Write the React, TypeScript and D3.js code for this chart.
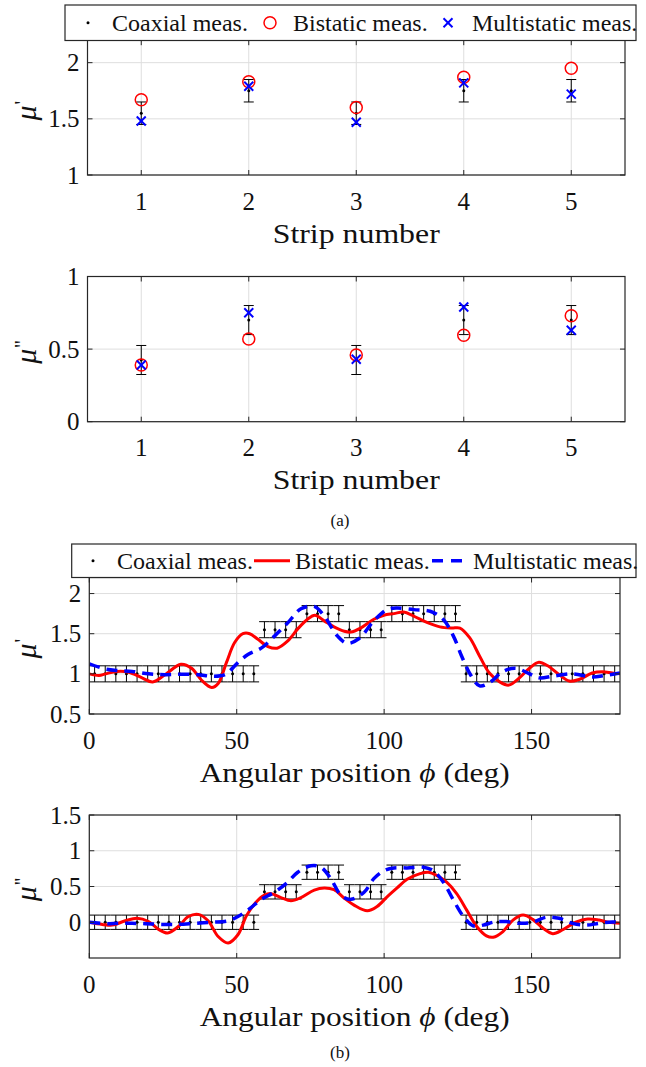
import React from 'react';
import * as d3 from 'd3';

// ---------- DATA ----------
const strips = [1, 2, 3, 4, 5];
const stripTicks = [1, 2, 3, 4, 5];

const coaxMuP = [1.55, 1.75, 1.55, 1.75, 1.75];
const coaxMuPErr = [0.1, 0.1, 0.1, 0.1, 0.1];
const bistMuP = [1.67, 1.83, 1.6, 1.87, 1.95];
const multiMuP = [1.48, 1.79, 1.47, 1.82, 1.72];

const coaxMuPP = [0.425, 0.7, 0.425, 0.7, 0.7];
const coaxMuPPErr = [0.1, 0.1, 0.1, 0.1, 0.1];
const bistMuPP = [0.39, 0.57, 0.46, 0.595, 0.73];
const multiMuPP = [0.39, 0.75, 0.43, 0.79, 0.63];

const angTicks = [0, 50, 100, 150];

const coaxAngles = [1.8, 5.4, 9, 12.6, 16.2, 19.8, 23.4, 27, 30.6, 34.2, 37.8, 41.4, 45, 48.6, 52.2, 55.8,
  59.4, 63, 66.6, 70.2, 73.8, 77.4, 81, 84.6, 88.2, 91.8, 95.4, 99, 102.6, 106.2, 109.8, 113.4, 117, 120.6, 124.2,
  127.8, 131.4, 135, 138.6, 142.2, 145.8, 149.4, 153, 156.6, 160.2, 163.8, 167.4, 171, 174.6, 178.2];
const coaxAngMuP = [1, 1, 1, 1, 1, 1, 1, 1, 1, 1, 1, 1, 1, 1, 1, 1,
  1.55, 1.55, 1.55, 1.55, 1.75, 1.75, 1.75, 1.75, 1.55, 1.55, 1.55, 1.55,
  1.75, 1.75, 1.75, 1.75, 1.75, 1.75, 1.75,
  1, 1, 1, 1, 1, 1, 1, 1, 1, 1, 1, 1, 1, 1, 1];
const coaxAngMuPP = [0, 0, 0, 0, 0, 0, 0, 0, 0, 0, 0, 0, 0, 0, 0, 0,
  0.425, 0.425, 0.425, 0.425, 0.7, 0.7, 0.7, 0.7, 0.425, 0.425, 0.425, 0.425,
  0.7, 0.7, 0.7, 0.7, 0.7, 0.7, 0.7,
  0, 0, 0, 0, 0, 0, 0, 0, 0, 0, 0, 0, 0, 0, 0];
const coaxAngErr = [0.1, 0.1, 0.1, 0.1, 0.1, 0.1, 0.1, 0.1, 0.1, 0.1, 0.1, 0.1, 0.1, 0.1, 0.1, 0.1,
  0.1, 0.1, 0.1, 0.1, 0.1, 0.1, 0.1, 0.1, 0.1, 0.1, 0.1, 0.1, 0.1, 0.1, 0.1, 0.1, 0.1, 0.1, 0.1,
  0.1, 0.1, 0.1, 0.1, 0.1, 0.1, 0.1, 0.1, 0.1, 0.1, 0.1, 0.1, 0.1, 0.1, 0.1];

const bistAngP = [0, 3.3, 5.5, 9.4, 13.4, 17.9, 21.5, 25.7, 31.1, 34.7, 38.1, 41.5, 43.7, 46.5, 49.3, 52.1, 54.4,
  57.2, 60.6, 63.7, 67.3, 70.7, 74, 76.5, 79.7, 83, 86.5, 88.7, 92, 96.5, 99.9, 103.3, 106.6, 110, 114.5, 118.9,
  122.9, 125.7, 129, 132.4, 135.7, 139.2, 142.3, 145.9, 149.3, 152.5, 155.5, 159.4, 162.8, 166.1, 170.6, 174,
  177.4, 180];
const bistMuPCurve = [1.0, 0.98, 1.0, 1.03, 1.02, 0.95, 0.9, 0.99, 1.12, 1.07, 0.92, 0.83, 0.88, 1.14, 1.39, 1.5,
  1.5, 1.43, 1.34, 1.32, 1.41, 1.56, 1.68, 1.73, 1.66, 1.585, 1.53, 1.52, 1.57, 1.68, 1.73, 1.75, 1.77, 1.72, 1.64,
  1.585, 1.57, 1.57, 1.45, 1.22, 1.01, 0.9, 0.86, 0.95, 1.07, 1.145, 1.1, 0.99, 0.91, 0.93, 1.01, 1.025, 1.01, 1.0];

const multiAngP = [0, 5.5, 10, 14.5, 20.1, 25.7, 31.3, 37, 41.5, 46, 50.4, 53.8, 58.3, 62.8, 67.3, 71.8, 76.3,
  79.7, 84.2, 87.5, 91.5, 96.5, 101, 104.4, 110, 115.6, 120, 123.5, 126.3, 129.6, 132.4, 135.7, 140.3, 144.7,
  149.3, 152.6, 157.2, 163.9, 170.6, 175, 180];
const multiMuPCurve = [1.125, 1.06, 1.04, 1.03, 1.0, 0.99, 0.995, 0.99, 0.97, 0.99, 1.14, 1.24, 1.32, 1.47, 1.635,
  1.81, 1.84, 1.72, 1.47, 1.38, 1.44, 1.66, 1.8, 1.82, 1.8, 1.78, 1.68, 1.47, 1.22, 0.97, 0.85, 0.89, 1.03, 1.07,
  1.0, 0.95, 0.97, 1.0, 0.96, 0.98, 1.01];

const bistAngPP = [0, 4.4, 7.8, 12.2, 16.2, 20.1, 23.5, 26.6, 30.2, 33.6, 37, 40.3, 43.7, 47.1, 50.4, 53.3, 56.1,
  59.4, 61.7, 65, 68.4, 71.8, 76.3, 79.7, 83, 86.4, 89.8, 94.3, 97.6, 101, 104.4, 107.8, 112.2, 115, 117.8, 121.2,
  124.6, 128, 131.4, 134.7, 137, 140.3, 143.7, 147.1, 150.4, 153.8, 157.2, 160.6, 165, 169, 172.9, 176.3, 180];
const bistMuPPCurve = [0, -0.03, -0.04, 0.02, 0.055, 0.01, -0.1, -0.15, -0.06, 0.08, 0.11, 0.02, -0.2, -0.29,
  -0.175, 0.09, 0.26, 0.38, 0.4, 0.345, 0.3, 0.345, 0.45, 0.48, 0.455, 0.34, 0.24, 0.16, 0.22, 0.355, 0.48, 0.6,
  0.68, 0.7, 0.655, 0.56, 0.4, 0.17, -0.06, -0.19, -0.21, -0.13, 0.03, 0.1, 0.04, -0.08, -0.16, -0.105, 0.0, 0.045,
  0.03, 0, -0.015];

const multiAngPP = [0, 5.5, 10, 14.5, 19, 24.6, 30.2, 35.8, 41.5, 47.1, 50.4, 54.4, 58.3, 62.8, 67.3, 70.7, 75.2,
  78.5, 81.9, 85.3, 88.7, 93.2, 96.5, 99.9, 103.3, 107.8, 113.4, 116.7, 120.1, 123.5, 126.9, 130.2, 133.6, 137,
  141.5, 146, 150.4, 154.9, 159.4, 163.9, 168.4, 172.9, 177.4, 180];
const multiMuPPCurve = [0, -0.02, -0.015, -0.015, -0.02, -0.03, -0.03, -0.015, 0, 0.02, 0.08, 0.19, 0.32, 0.42,
  0.56, 0.7, 0.79, 0.77, 0.61, 0.38, 0.32, 0.42, 0.61, 0.72, 0.76, 0.76, 0.77, 0.72, 0.56, 0.31, 0.08, -0.05,
  -0.04, 0, 0.01, -0.015, 0, 0.07, 0.055, -0.015, -0.04, -0.015, 0.005, 0];

const legendLabels = ['Coaxial meas.', 'Bistatic meas.', 'Multistatic meas.'];

// ---------- STYLE ----------
const FONT = "'Liberation Serif', Tinos, 'Times New Roman', Times, 'DejaVu Serif Condensed', 'DejaVu Serif', serif";
const AX = '#262626';
const GRID = '#dedede';
const RED = '#ff0000';
const BLUE = '#0000ff';
const TICK = 5;

type Box = { left: number; right: number; top: number; bottom: number };

function Axes({ box, x, y, xTicks, yTicks, xLabel, xLabelLen, yLabel }: any) {
  const { left, right, top, bottom } = box as Box;
  return (
    <g>
      {xTicks.map((t: number) => (
        <g key={'xt' + t}>
          <line x1={x(t)} x2={x(t)} y1={bottom} y2={bottom - TICK} stroke={AX} />
          <line x1={x(t)} x2={x(t)} y1={top} y2={top + TICK} stroke={AX} />
          <text x={x(t)} y={bottom + 34.5} fontSize={25} textAnchor="middle" fontFamily={FONT} fill="#111">{t}</text>
        </g>
      ))}
      {yTicks.map((t: number) => (
        <g key={'yt' + t}>
          <line x1={left} x2={left + TICK} y1={y(t)} y2={y(t)} stroke={AX} />
          <line x1={right} x2={right - TICK} y1={y(t)} y2={y(t)} stroke={AX} />
          <text x={left - 8} y={y(t) + 8.5} fontSize={25} textAnchor="end" fontFamily={FONT} fill="#111">{t}</text>
        </g>
      ))}
      <rect x={left} y={top} width={right - left} height={bottom - top} fill="none" stroke={AX} strokeWidth={1.2} />
      <text x={(left + right) / 2} y={bottom + 67.5} fontSize={28} textAnchor="middle" fontFamily={FONT} fill="#111"
        textLength={xLabelLen} lengthAdjust="spacingAndGlyphs">
        {xLabel}
      </text>
      <text transform={`translate(36,${(top + bottom) / 2 + 3}) rotate(-90)`} fontSize={30} textAnchor="middle"
        fontFamily={FONT} fill="#111">
        <tspan fontStyle="italic">μ</tspan>
        <tspan fontSize={20} dy={-7} dx={1}>{yLabel}</tspan>
      </text>
    </g>
  );
}

function Grid({ box, x, y, xTicks, yTicks }: any) {
  const { left, right, top, bottom } = box as Box;
  return (
    <g>
      {xTicks.map((t: number) => (
        <line key={'gx' + t} x1={x(t)} x2={x(t)} y1={top} y2={bottom} stroke={GRID} />
      ))}
      {yTicks.map((t: number) => (
        <line key={'gy' + t} x1={left} x2={right} y1={y(t)} y2={y(t)} stroke={GRID} />
      ))}
    </g>
  );
}

function XMark({ cx, cy }: { cx: number; cy: number }) {
  const s = 4.5;
  return (
    <g stroke={BLUE} strokeWidth={2}>
      <line x1={cx - s} y1={cy - s} x2={cx + s} y2={cy + s} />
      <line x1={cx - s} y1={cy + s} x2={cx + s} y2={cy - s} />
    </g>
  );
}

function StripPanel({ box, yDomain, yTicks, coax, err, bist, multi, yLabel }: any) {
  const x = d3.scaleLinear().domain([0.5, 5.5]).range([box.left, box.right]);
  const y = d3.scaleLinear().domain(yDomain).range([box.bottom, box.top]);
  return (
    <g>
      <Grid box={box} x={x} y={y} xTicks={stripTicks} yTicks={yTicks} />
      {strips.map((s, i) => {
        const cx = x(s);
        const y1 = y(coax[i] - err[i]);
        const y2 = y(coax[i] + err[i]);
        return (
          <g key={'eb' + s} stroke="#000" strokeWidth={1}>
            <line x1={cx} x2={cx} y1={y1} y2={y2} />
            <line x1={cx - 5} x2={cx + 5} y1={y1} y2={y1} />
            <line x1={cx - 5} x2={cx + 5} y1={y2} y2={y2} />
            <circle cx={cx} cy={y(coax[i])} r={1.5} fill="#000" stroke="none" />
          </g>
        );
      })}
      {strips.map((s, i) => (
        <circle key={'b' + s} cx={x(s)} cy={y(bist[i])} r={6} fill="none" stroke={RED} strokeWidth={1.5} />
      ))}
      {strips.map((s, i) => (
        <XMark key={'m' + s} cx={x(s)} cy={y(multi[i])} />
      ))}
      <Axes box={box} x={x} y={y} xTicks={stripTicks} yTicks={yTicks} xLabel="Strip number" xLabelLen={167}
        yLabel={yLabel} />
    </g>
  );
}

function AnglePanel({ box, yDomain, yTicks, yTickLabels, coax, bistX, bistY, multiX, multiY, yLabel, clipId }: any) {
  const x = d3.scaleLinear().domain([0, 180]).range([box.left, box.right]);
  const y = d3.scaleLinear().domain(yDomain).range([box.bottom, box.top]);
  const line = d3
    .line<[number, number]>()
    .x((d) => x(d[0]))
    .y((d) => y(d[1]))
    .curve(d3.curveCatmullRom.alpha(0.5));
  const bistPath = line(bistX.map((a: number, i: number) => [a, bistY[i]]));
  const multiPath = line(multiX.map((a: number, i: number) => [a, multiY[i]]));
  const half = 1.8;
  return (
    <g>
      <defs>
        <clipPath id={clipId}>
          <rect x={box.left} y={box.top} width={box.right - box.left} height={box.bottom - box.top} />
        </clipPath>
      </defs>
      <Grid box={box} x={x} y={y} xTicks={angTicks} yTicks={yTicks} />
      {coaxAngles.map((a, i) => {
        const cx = x(a);
        const y1 = y(coax[i] - coaxAngErr[i]);
        const y2 = y(coax[i] + coaxAngErr[i]);
        return (
          <g key={'ce' + i} stroke="#000" strokeWidth={1}>
            <line x1={cx} x2={cx} y1={y1} y2={y2} />
            <line x1={x(a - half)} x2={x(a + half)} y1={y1} y2={y1} />
            <line x1={x(a - half)} x2={x(a + half)} y1={y2} y2={y2} />
            <circle cx={cx} cy={y(coax[i])} r={1.5} fill="#000" stroke="none" />
          </g>
        );
      })}
      <g clipPath={`url(#${clipId})`}>
        <path d={bistPath || ''} fill="none" stroke={RED} strokeWidth={3} />
        <path d={multiPath || ''} fill="none" stroke={BLUE} strokeWidth={3.5} strokeDasharray="11,7" />
      </g>
      <Axes box={box} x={x} y={y} xTicks={angTicks} yTicks={yTickLabels} xLabel={
        <>
          Angular position <tspan fontStyle="italic">ϕ</tspan> (deg)
        </>
      } xLabelLen={310} yLabel={yLabel} />
    </g>
  );
}

function Legend({ x0, x1, y0, y1, kind }: any) {
  const cy = (y0 + y1) / 2;
  const textY = cy + 8;
  return (
    <g>
      <rect x={x0} y={y0} width={x1 - x0} height={y1 - y0} fill="#fff" stroke={AX} strokeWidth={1.2} />
      <circle cx={kind === 'marker' ? 88 : 93} cy={cy} r={1.5} fill="#000" />
      <text x={kind === 'marker' ? 112 : 117} y={textY} fontSize={24} fontFamily={FONT} fill="#111">{legendLabels[0]}</text>
      {kind === 'marker' ? (
        <circle cx={270} cy={cy} r={6} fill="none" stroke={RED} strokeWidth={1.5} />
      ) : (
        <line x1={254} x2={290} y1={cy} y2={cy} stroke={RED} strokeWidth={3} />
      )}
      <text x={kind === 'marker' ? 293 : 295} y={textY} fontSize={24} fontFamily={FONT} fill="#111">{legendLabels[1]}</text>
      {kind === 'marker' ? (
        <XMark cx={448} cy={cy} />
      ) : (
        <line x1={432} x2={462} y1={cy} y2={cy} stroke={BLUE} strokeWidth={3.5} strokeDasharray="11,8" />
      )}
      <text x={kind === 'marker' ? 472 : 473} y={textY} fontSize={24} fontFamily={FONT} fill="#111">{legendLabels[2]}</text>
    </g>
  );
}

export default function App() {
  const box1 = { left: 87.5, right: 625, top: 40.2, bottom: 175 };
  const box2 = { left: 87.5, right: 625, top: 276.5, bottom: 421.7 };
  const box3 = { left: 89.3, right: 620, top: 577.5, bottom: 714 };
  const box4 = { left: 89.3, right: 620, top: 815, bottom: 958 };
  return (
    <svg width={646} height={1067} style={{ position: 'absolute', left: 0, top: 0, background: '#fff' }}
      xmlns="http://www.w3.org/2000/svg">
      <rect x={0} y={0} width={646} height={1067} fill="#fff" />
      <StripPanel box={box1} yDomain={[1, 2.2]} yTicks={[1, 1.5, 2]} coax={coaxMuP} err={coaxMuPErr}
        bist={bistMuP} multi={multiMuP} yLabel="'" />
      <Legend x0={65} x1={636} y0={5} y1={40.5} kind="marker" />
      <StripPanel box={box2} yDomain={[0, 1]} yTicks={[0, 0.5, 1]} coax={coaxMuPP} err={coaxMuPPErr}
        bist={bistMuPP} multi={multiMuPP} yLabel="''" />
      <text x={340} y={526} fontSize={17} textAnchor="middle" fontFamily={FONT} fill="#111">(a)</text>

      <AnglePanel box={box3} yDomain={[0.5, 2.2]} yTicks={[0.5, 1, 1.5, 2]} yTickLabels={[0.5, 1, 1.5, 2]}
        coax={coaxAngMuP} bistX={bistAngP} bistY={bistMuPCurve} multiX={multiAngP} multiY={multiMuPCurve}
        yLabel="'" clipId="clip3" />
      <Legend x0={71.7} x1={636} y0={544} y1={577.5} kind="line" />
      <AnglePanel box={box4} yDomain={[-0.5, 1.5]} yTicks={[0, 0.5, 1, 1.5]} yTickLabels={[0, 0.5, 1, 1.5]}
        coax={coaxAngMuPP} bistX={bistAngPP} bistY={bistMuPPCurve} multiX={multiAngPP} multiY={multiMuPPCurve}
        yLabel="''" clipId="clip4" />
      <text x={340} y={1058} fontSize={17} textAnchor="middle" fontFamily={FONT} fill="#111">(b)</text>
    </svg>
  );
}
